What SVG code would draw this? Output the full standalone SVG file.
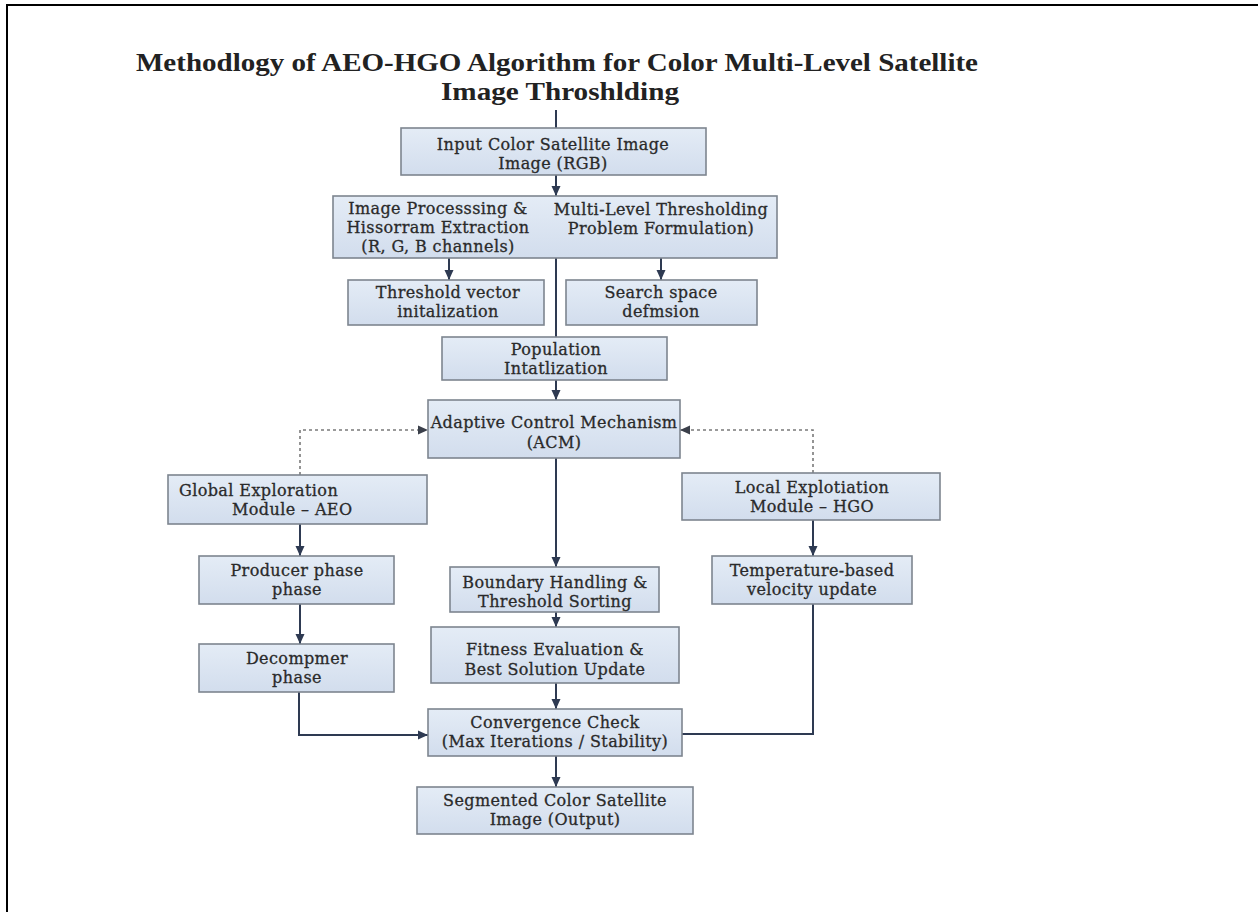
<svg xmlns="http://www.w3.org/2000/svg" width="1258" height="912" viewBox="0 0 1258 912">
<style>
.box{fill:url(#bg);stroke:#7d858f;stroke-width:1.6}
.t{font-family:"DejaVu Serif","Liberation Serif",serif;font-size:16px;letter-spacing:0.4px;fill:#2a2a2a;stroke:#2a2a2a;stroke-width:0.3;text-anchor:middle}
.tl{text-anchor:start}
.title{font-family:"Liberation Serif","DejaVu Serif",serif;font-size:26px;font-weight:bold;fill:#222;text-anchor:middle}
.c{fill:none;stroke:#2e3a52;stroke-width:2}
.d{fill:none;stroke:#7a7a7a;stroke-width:1.6;stroke-dasharray:3 3}
</style>
<defs>
<linearGradient id="bg" x1="0" y1="0" x2="0" y2="1">
<stop offset="0" stop-color="#e4ecf6"/>
<stop offset="1" stop-color="#d2dded"/>
</linearGradient>
<marker id="a" markerUnits="userSpaceOnUse" markerWidth="10" markerHeight="10" viewBox="0 0 10 10" refX="10" refY="5" orient="auto">
<path d="M0 0.5 L10 5 L0 9.5 Z" fill="#2e3a52"/>
</marker>
<marker id="ag" markerUnits="userSpaceOnUse" markerWidth="10" markerHeight="10" viewBox="0 0 10 10" refX="10" refY="5" orient="auto">
<path d="M0 0.5 L10 5 L0 9.5 Z" fill="#3a3f4a"/>
</marker>
</defs>
<rect width="1258" height="912" fill="#ffffff"/>
<path d="M7 912 V5 H1258" fill="none" stroke="#000" stroke-width="2"/>
<g id="title">
<text class="title" x="557" y="71" textLength="842" lengthAdjust="spacingAndGlyphs">Methodlogy of AEO-HGO Algorithm for Color Multi-Level Satellite</text>
<text class="title" x="560" y="100" textLength="238" lengthAdjust="spacingAndGlyphs">Image Throshlding</text>
</g>
<g id="connectors">
<path class="c" d="M556 110 V128"/>
<path class="c" d="M556 175 V196" marker-end="url(#a)"/>
<path class="c" d="M449 258 V280" marker-end="url(#a)"/>
<path class="c" d="M556 258 V337"/>
<path class="c" d="M661 258 V280" marker-end="url(#a)"/>
<path class="c" d="M556 380 V400" marker-end="url(#a)"/>
<path class="d" d="M300 475 V430 H428" marker-end="url(#ag)"/>
<path class="d" d="M813 473 V430 H680" marker-end="url(#ag)"/>
<path class="c" d="M556 458 V567" marker-end="url(#a)"/>
<path class="c" d="M300 524 V556" marker-end="url(#a)"/>
<path class="c" d="M300 604 V644" marker-end="url(#a)"/>
<path class="c" d="M299 692 V735 H428" marker-end="url(#a)"/>
<path class="c" d="M813 520 V556" marker-end="url(#a)"/>
<path class="c" d="M813 604 V734 H682"/>
<path class="c" d="M556 612 V627" marker-end="url(#a)"/>
<path class="c" d="M556 683 V709" marker-end="url(#a)"/>
<path class="c" d="M556 756 V787" marker-end="url(#a)"/>
</g>
<g id="input">
<rect class="box" x="401" y="128" width="305" height="47"/>
<text class="t" x="553" y="150">Input Color Satellite Image</text>
<text class="t" x="553" y="169">Image (RGB)</text>
</g>
<g id="preprocess">
<rect class="box" x="333" y="196" width="444" height="62"/>
<text class="t" x="438" y="214">Image Processsing &amp;</text>
<text class="t" x="438" y="233">Hissorram Extraction</text>
<text class="t" x="438" y="252">(R, G, B channels)</text>
<text class="t" x="661" y="215">Multi-Level Thresholding</text>
<text class="t" x="661" y="234">Problem Formulation)</text>
</g>
<g id="threshold">
<rect class="box" x="348" y="280" width="196" height="45"/>
<text class="t" x="448" y="298">Threshold vector</text>
<text class="t" x="448" y="317">initalization</text>
</g>
<g id="search">
<rect class="box" x="566" y="280" width="191" height="45"/>
<text class="t" x="661" y="298">Search space</text>
<text class="t" x="661" y="317">defmsion</text>
</g>
<g id="population">
<rect class="box" x="442" y="337" width="225" height="43"/>
<text class="t" x="556" y="355">Population</text>
<text class="t" x="556" y="374">Intatlization</text>
</g>
<g id="acm">
<rect class="box" x="428" y="400" width="252" height="58"/>
<text class="t" x="554" y="428">Adaptive Control Mechanism</text>
<text class="t" x="554" y="448">(ACM)</text>
</g>
<g id="global">
<rect class="box" x="168" y="475" width="259" height="49"/>
<text class="t tl" x="179" y="496">Global Exploration</text>
<text class="t tl" x="232" y="515">Module – AEO</text>
</g>
<g id="producer">
<rect class="box" x="199" y="556" width="195" height="48"/>
<text class="t" x="297" y="576">Producer phase</text>
<text class="t" x="297" y="595">phase</text>
</g>
<g id="decomposer">
<rect class="box" x="199" y="644" width="195" height="48"/>
<text class="t" x="297" y="664">Decompmer</text>
<text class="t" x="297" y="683">phase</text>
</g>
<g id="local">
<rect class="box" x="682" y="473" width="258" height="47"/>
<text class="t" x="812" y="493">Local Explotiation</text>
<text class="t" x="812" y="512">Module – HGO</text>
</g>
<g id="temperature">
<rect class="box" x="712" y="556" width="200" height="48"/>
<text class="t" x="812" y="576">Temperature-based</text>
<text class="t" x="812" y="595">velocity update</text>
</g>
<g id="boundary">
<rect class="box" x="450" y="567" width="209" height="45"/>
<text class="t" x="555" y="588">Boundary Handling &amp;</text>
<text class="t" x="555" y="607">Threshold Sorting</text>
</g>
<g id="fitness">
<rect class="box" x="431" y="627" width="248" height="56"/>
<text class="t" x="555" y="655">Fitness Evaluation &amp;</text>
<text class="t" x="555" y="675">Best Solution Update</text>
</g>
<g id="convergence">
<rect class="box" x="428" y="709" width="254" height="47"/>
<text class="t" x="555" y="728">Convergence Check</text>
<text class="t" x="555" y="747">(Max Iterations / Stability)</text>
</g>
<g id="output">
<rect class="box" x="417" y="787" width="276" height="47"/>
<text class="t" x="555" y="806">Segmented Color Satellite</text>
<text class="t" x="555" y="825">Image (Output)</text>
</g>
</svg>
